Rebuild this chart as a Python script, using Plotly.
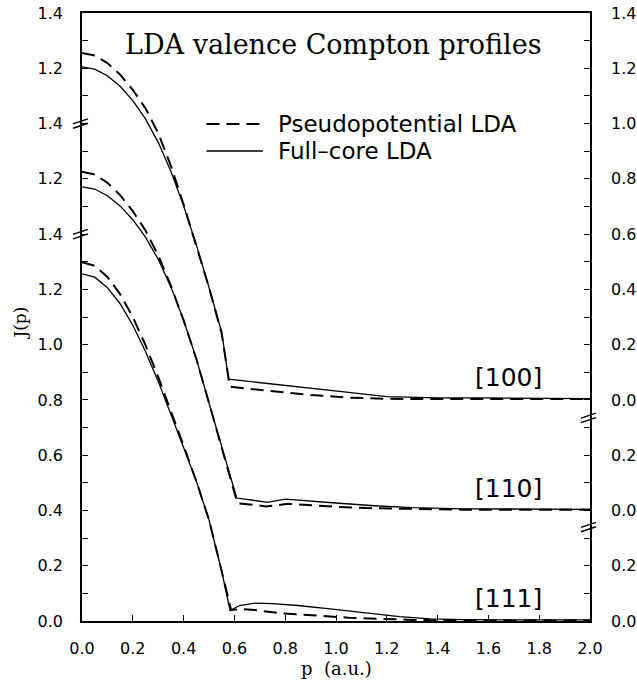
import plotly.graph_objects as go

# ---------------- data ----------------
# momentum p (a.u.) and J(p) for each direction; profiles are stacked with offsets
p_100_pp = [0, 0.05, 0.1, 0.15, 0.2, 0.25, 0.3, 0.35, 0.4, 0.45, 0.5, 0.55, 0.582, 0.65, 0.75, 0.9, 1.05, 1.2, 1.4, 1.6, 1.8, 2.0]
j_100_pp = [1.255, 1.246, 1.219, 1.177, 1.122, 1.055, 0.965, 0.847, 0.707, 0.557, 0.407, 0.24, 0.048, 0.041, 0.031, 0.018, 0.008, 0.004, 0.003, 0.003, 0.003, 0.003]
p_100_fc = [0, 0.05, 0.1, 0.15, 0.2, 0.25, 0.3, 0.35, 0.4, 0.45, 0.5, 0.55, 0.577, 0.65, 0.75, 0.9, 1.05, 1.2, 1.4, 1.6, 1.8, 2.0]
j_100_fc = [1.205, 1.197, 1.173, 1.135, 1.083, 1.017, 0.932, 0.827, 0.702, 0.562, 0.407, 0.245, 0.075, 0.068, 0.058, 0.044, 0.027, 0.012, 0.007, 0.007, 0.006, 0.005]

p_110_pp = [0, 0.05, 0.1, 0.15, 0.2, 0.25, 0.3, 0.35, 0.4, 0.45, 0.5, 0.55, 0.612, 0.68, 0.725, 0.81, 0.9, 1.0, 1.15, 1.3, 1.5, 1.75, 2.0]
j_110_pp = [1.226, 1.216, 1.186, 1.141, 1.083, 1.013, 0.923, 0.813, 0.688, 0.549, 0.389, 0.23, 0.026, 0.02, 0.014, 0.024, 0.019, 0.013, 0.008, 0.005, 0.003, 0.003, 0.003]
p_110_fc = [0, 0.05, 0.1, 0.15, 0.2, 0.25, 0.3, 0.35, 0.4, 0.45, 0.5, 0.55, 0.609, 0.68, 0.73, 0.8, 0.9, 1.0, 1.15, 1.3, 1.5, 1.75, 2.0]
j_110_fc = [1.171, 1.163, 1.139, 1.102, 1.052, 0.989, 0.909, 0.809, 0.689, 0.549, 0.389, 0.23, 0.045, 0.036, 0.029, 0.041, 0.035, 0.027, 0.017, 0.01, 0.006, 0.005, 0.004]

p_111_pp = [0, 0.05, 0.1, 0.15, 0.2, 0.25, 0.3, 0.35, 0.4, 0.45, 0.5, 0.55, 0.587, 0.63, 0.68, 0.78, 0.9, 1.05, 1.17, 1.3, 1.5, 1.75, 2.0]
j_111_pp = [1.298, 1.285, 1.245, 1.183, 1.1, 0.998, 0.883, 0.761, 0.634, 0.506, 0.366, 0.18, 0.04, 0.043, 0.04, 0.028, 0.02, 0.012, 0.008, 0.004, 0.002, 0.002, 0.002]
p_111_fc = [0, 0.05, 0.1, 0.15, 0.2, 0.25, 0.3, 0.35, 0.4, 0.45, 0.5, 0.55, 0.583, 0.62, 0.68, 0.75, 0.85, 0.976, 1.1, 1.25, 1.37, 1.5, 1.75, 2.0]
j_111_fc = [1.256, 1.244, 1.206, 1.148, 1.07, 0.975, 0.867, 0.75, 0.628, 0.506, 0.366, 0.18, 0.038, 0.056, 0.065, 0.063, 0.056, 0.044, 0.031, 0.016, 0.008, 0.005, 0.004, 0.004]

directions = ["[100]", "[110]", "[111]"]
offsets = [0.8, 0.4, 0.0]

x_ticks = [0.0, 0.2, 0.4, 0.6, 0.8, 1.0, 1.2, 1.4, 1.6, 1.8, 2.0]
y_tickvals = [0.0, 0.1, 0.2, 0.3, 0.4, 0.5, 0.6, 0.7, 0.8, 0.9, 1.0, 1.1,
              1.2, 1.3, 1.4, 1.5, 1.6, 1.7, 1.8, 1.9, 2.0, 2.1, 2.2]
left_ticktext = ["0.0", "", "0.2", "", "0.4", "", "0.6", "", "0.8", "", "1.0", "",
                 "1.2", "", "1.4", "", "1.2", "", "1.4", "", "1.2", "", "1.4"]
right_ticktext = ["0.0", "", "0.2", "", "0.0", "", "0.2", "", "0.0", "", "0.2", "",
                  "0.4", "", "0.6", "", "0.8", "", "1.0", "", "1.2", "", "1.4"]
left_breaks = [1.4, 1.8]
right_breaks = [0.34, 0.735]

series = [
    (p_100_pp, j_100_pp, p_100_fc, j_100_fc),
    (p_110_pp, j_110_pp, p_110_fc, j_110_fc),
    (p_111_pp, j_111_pp, p_111_fc, j_111_fc),
]

SANS = "DejaVu Sans"
SERIF = "DejaVu Serif"
DASH = "13px,7px"

fig = go.Figure()
for i, ((ppp, jpp, pfc, jfc), off) in enumerate(zip(series, offsets)):
    fig.add_trace(go.Scatter(x=ppp, y=[v + off for v in jpp], mode="lines",
                             line=dict(color="black", width=2, dash=DASH),
                             name="Pseudopotential LDA", showlegend=False))
    fig.add_trace(go.Scatter(x=pfc, y=[v + off for v in jfc], mode="lines",
                             line=dict(color="black", width=1.3),
                             name="Full-core LDA", showlegend=False,
                             yaxis="y2" if i == 0 else "y"))

axis_common = dict(showgrid=False, zeroline=False, showline=True, linecolor="black",
                   linewidth=1.6, ticks="inside", ticklen=6, tickwidth=1.3, tickcolor="black",
                   automargin=False,
                   tickfont=dict(family=SANS, size=16, color="black"))

fig.update_layout(
    width=637, height=685,
    margin=dict(l=82, r=47, t=13, b=64),
    plot_bgcolor="white", paper_bgcolor="white",
    showlegend=False,
    xaxis=dict(range=[0, 2], tickmode="array", tickvals=x_ticks,
               ticktext=[f"{v:.1f}" for v in x_ticks], mirror=True,
               ticklabelstandoff=12, **axis_common),
    yaxis=dict(range=[0, 2.2], tickmode="array", tickvals=y_tickvals,
               ticktext=left_ticktext, ticklabelstandoff=14, **axis_common),
    yaxis2=dict(range=[0, 2.2], overlaying="y", side="right", tickmode="array",
                tickvals=y_tickvals, ticktext=right_ticktext, ticklabelstandoff=16,
                **axis_common),
)

# axis break marks (double slashes on the axis lines)
px_x = 1 / 508.0
px_y = 2.2 / 608.0
shapes = []
for xb, ylist in ((0.0, left_breaks), (1.0, right_breaks)):
    for yb in ylist:
        for k in (-1, 1):
            yc = yb + k * 2.2 * px_y
            shapes.append(dict(type="line", xref="paper", yref="y",
                               x0=xb - 9 * px_x, x1=xb + 6 * px_x,
                               y0=yc - 2.5 * px_y, y1=yc + 2.5 * px_y,
                               line=dict(color="black", width=1.4)))

# hand-drawn legend
leg_y = [0.8174, 0.773]
shapes.append(dict(type="line", xref="paper", yref="paper", x0=0.245, x1=0.360,
                   y0=leg_y[0], y1=leg_y[0], line=dict(color="black", width=2, dash=DASH)))
shapes.append(dict(type="line", xref="paper", yref="paper", x0=0.245, x1=0.356,
                   y0=leg_y[1], y1=leg_y[1], line=dict(color="black", width=1.3)))
fig.update_layout(shapes=shapes)

annotations = [
    dict(text="LDA valence Compton profiles", xref="paper", yref="paper", x=0.495, y=0.948,
         showarrow=False, xanchor="center", yanchor="middle",
         font=dict(family=SERIF, size=27, color="black")),
    dict(text="Pseudopotential LDA", xref="paper", yref="paper", x=0.382, y=leg_y[0],
         showarrow=False, xanchor="left", yanchor="middle",
         font=dict(family=SANS, size=23, color="black")),
    dict(text="Full\u2013core LDA", xref="paper", yref="paper", x=0.382, y=leg_y[1],
         showarrow=False, xanchor="left", yanchor="middle",
         font=dict(family=SANS, size=23, color="black")),
    dict(text="J(p)", xref="paper", yref="paper", x=-0.121, y=0.49, textangle=-90,
         showarrow=False, xanchor="center", yanchor="middle",
         font=dict(family=SERIF, size=17, color="black")),
    dict(text="p  (a.u.)", xref="paper", yref="paper", x=0.5, y=-0.078,
         showarrow=False, xanchor="center", yanchor="middle",
         font=dict(family=SERIF, size=18, color="black")),
]
for d, off in zip(directions, offsets):
    annotations.append(dict(text=d, x=1.82, y=off + 0.08, xref="x", yref="y",
                            showarrow=False, xanchor="right", yanchor="middle",
                            font=dict(family=SANS, size=25, color="black")))
fig.update_layout(annotations=annotations)

fig.write_html("out.html")
